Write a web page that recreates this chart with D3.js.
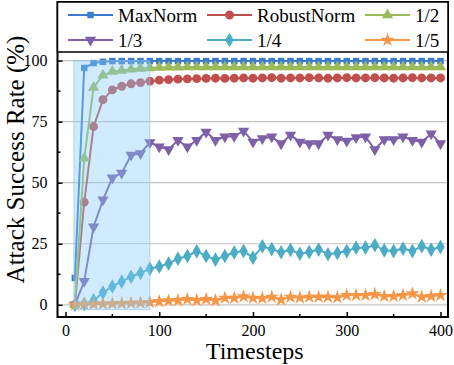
<!DOCTYPE html>
<html><head><meta charset="utf-8">
<script src="https://cdn.jsdelivr.net/npm/d3@7"></script>
<style>
html,body{margin:0;padding:0;background:#fff;}
svg{display:block;}
text{font-family:"Liberation Serif","Times New Roman",serif;fill:#000;}
</style></head>
<body>
<svg id="chart" width="454" height="365"></svg>
<script>
const timesteps = d3.range(10, 401, 10);
const seriesNames = ["MaxNorm","RobustNorm","1/2","1/3","1/4","1/5"];
const maxNorm = [11,97,99,99.5,99.8,99.8,99.8,99.8,99.8,99.8,99.8,99.8,99.8,99.8,99.8,99.8,99.8,99.8,99.8,99.8,99.8,99.8,99.8,99.8,99.8,99.8,99.8,99.8,99.8,99.8,99.8,99.8,99.8,99.8,99.8,99.8,99.8,99.8,99.8,99.8];
const robustNorm = [0,42,73,84,88,89.5,90.5,91,91.6,92,92.2,92.4,92.5,92.6,92.7,92.8,92.7,92.8,92.9,92.8,92.9,93,92.8,92.9,92.9,93,92.9,92.8,92.9,93,92.9,92.9,93,92.9,92.8,92.9,93,92.9,92.9,92.9];
const half = [0,60,89,94,95.5,96,96.5,96.8,97,97.2,97.3,97.3,97.4,97.4,97.4,97.4,97.4,97.4,97.4,97.4,97.4,97.4,97.4,97.4,97.4,97.4,97.4,97.4,97.4,97.4,97.4,97.4,97.4,97.4,97.4,97.4,97.4,97.4,97.4,97.4];
const third = [0,9.6,32,43,52,54,61.3,62,66.5,64.7,63.6,67.4,64.7,67.4,70.8,67.4,68.8,69,71.2,66.7,68.1,68.8,66,69.5,66.7,66,66,69.5,67.7,67.1,68.5,68.8,63.6,67.7,67.7,68.8,67.4,66.7,70,66];
const quarter = [0,0.3,1.8,5,7.5,9.5,11.5,13,14.8,15.7,16.9,18.9,20,21.9,20,18.5,20,21.4,22,19.3,23.9,22.8,21.5,22.5,20.9,21.6,22.6,20.7,21.2,22,23.4,23.4,24.4,22.3,22,23,22,24,22.6,23.7];
const fifth = [0,0.2,0.3,0.4,0.5,0.6,0.7,0.8,1.0,1.4,1.7,1.8,2.3,1.8,2.3,1.8,2.8,2.8,3.4,2.8,2.7,3.2,2.1,3.2,2.9,3.2,3.2,3.2,3,3.9,3.9,3.9,4.3,3.5,3.5,3.9,4.6,3.2,3.5,3.9];
const yTicks = [0,25,50,75,100];
const xTicks = [0,100,200,300,400];
const shadeRange = [9, 90];

const colors = ["#3a7bd0","#c0504d","#9bbb59","#7d60a8","#4bacc6","#f79646"];
const symbols = [
  {t:d3.symbolSquare, s:42, r:0},
  {t:d3.symbolCircle, s:62, r:0},
  {t:d3.symbolTriangle, s:55, r:0},
  {t:d3.symbolTriangle, s:55, r:180},
  {t:d3.symbolDiamond, s:62, r:0},
  {t:d3.symbolStar, s:62, r:0}
];
const allData = [maxNorm, robustNorm, half, third, quarter, fifth];

const svg = d3.select("#chart");
const L=57.5, R=448, T=2, B=317;
const x = d3.scaleLinear().domain([-8.5,408]).range([L,R]);
const y = d3.scaleLinear().domain([-5,124]).range([B,T]);

// grid
svg.append("g").selectAll("line").data(yTicks).join("line")
  .attr("x1",L).attr("x2",R).attr("y1",d=>y(d)).attr("y2",d=>y(d))
  .attr("stroke","#c4c4c4").attr("stroke-width",1.2);

// series
const line = d3.line().x((d,i)=>x(timesteps[i])).y(d=>y(d));
allData.forEach((arr,k)=>{
  const g = svg.append("g");
  g.append("path").datum(arr).attr("d",line).attr("fill","none")
    .attr("stroke",colors[k]).attr("stroke-width",2);
  const sym = d3.symbol().type(symbols[k].t).size(symbols[k].s);
  g.selectAll("path.m").data(arr).join("path").attr("class","m")
    .attr("d",sym).attr("fill",colors[k])
    .attr("transform",(d,i)=>`translate(${x(timesteps[i])},${y(d)}) rotate(${symbols[k].r})`);
});

// shaded overlay
svg.append("rect").attr("x",x(shadeRange[0])).attr("y",y(100))
  .attr("width",x(shadeRange[1])-x(shadeRange[0])).attr("height",y(-2)-y(100))
  .attr("fill","#87cefa").attr("fill-opacity",0.4)
  .attr("stroke","#87c4ea").attr("stroke-opacity",0.6).attr("stroke-width",1);

// axes
const yAxis = d3.axisLeft(y).tickValues(yTicks).tickSize(-5).tickPadding(10).tickFormat(d3.format("d"));
const gy = svg.append("g").attr("transform",`translate(${L},0)`).call(yAxis);
const xAxis = d3.axisBottom(x).tickValues(xTicks).tickSize(-5).tickPadding(8).tickFormat(d3.format("d"));
const gx = svg.append("g").attr("transform",`translate(0,${B})`).call(xAxis);
[gx,gy].forEach(g=>{
  g.select(".domain").remove();
  g.selectAll(".tick line").attr("stroke","#000").attr("stroke-width",1.5);
  g.selectAll(".tick text").attr("font-size",16).attr("font-family","Liberation Serif");
});
// minor ticks
svg.append("g").selectAll("line").data([12.5,37.5,62.5,87.5,112.5]).join("line")
  .attr("x1",L).attr("x2",L+3).attr("y1",d=>y(d)).attr("y2",d=>y(d))
  .attr("stroke","#000").attr("stroke-width",1.5);
svg.append("g").selectAll("line").data([50,150,250,350]).join("line")
  .attr("x1",d=>x(d)).attr("x2",d=>x(d)).attr("y1",B).attr("y2",B-3)
  .attr("stroke","#000").attr("stroke-width",1.5);

// frame
svg.append("rect").attr("x",L).attr("y",T).attr("width",R-L).attr("height",B-T)
  .attr("fill","none").attr("stroke","#000").attr("stroke-width",2);

// legend
svg.append("rect").attr("x",L).attr("y",T).attr("width",R-L).attr("height",50)
  .attr("fill","#fff").attr("stroke","#000").attr("stroke-width",1.5);
const legPos = [[68,15],[207,15],[365,15],[68,40],[207,40],[365,40]];
seriesNames.forEach((n,k)=>{
  const [lx,ly] = legPos[k];
  const g = svg.append("g");
  g.append("line").attr("x1",lx).attr("x2",lx+45).attr("y1",ly).attr("y2",ly)
    .attr("stroke",colors[k]).attr("stroke-width",2);
  g.append("path").attr("d",d3.symbol().type(symbols[k].t).size(symbols[k].s)())
    .attr("fill",colors[k]).attr("transform",`translate(${lx+22.5},${ly}) rotate(${symbols[k].r})`);
  g.append("text").attr("x",lx+50).attr("y",ly).attr("dy","0.35em")
    .attr("font-size",19).text(n);
});

// axis titles
svg.append("text").attr("x",(L+R)/2+2).attr("y",359).attr("text-anchor","middle")
  .attr("font-size",24).text("Timesteps");
svg.append("text").attr("transform",`translate(24,${(T+B)/2}) rotate(-90)`)
  .attr("text-anchor","middle").attr("font-size",25).text("Attack Success Rate (%)");
</script>
</body></html>
